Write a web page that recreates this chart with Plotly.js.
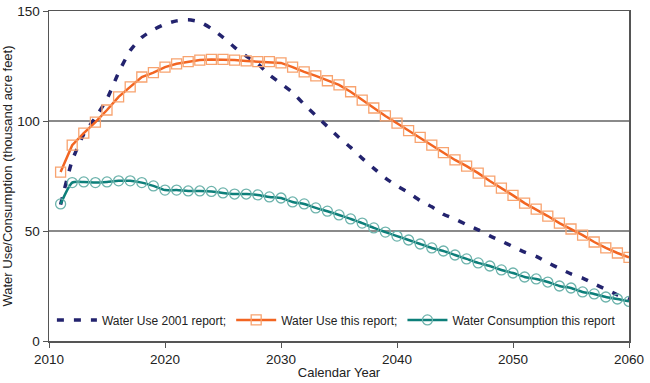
<!DOCTYPE html>
<html><head><meta charset="utf-8">
<script src="https://cdn.plot.ly/plotly-3.0.1.min.js"></script>
<style>html,body{margin:0;padding:0;background:#fff}#chart{width:650px;height:383px}</style>
</head><body><div id="chart"></div>
<script>
var years = [];
for (var y = 2011; y <= 2060; y++) years.push(y);

var use2001 = [62, 82, 94, 101.5, 110, 122, 132, 138, 141.5, 144,
  145.5, 146, 145, 142, 138, 133.5, 129.5, 126, 121, 117,
  113, 107.5, 102.5, 97.5, 92.5, 88, 83, 78.5, 74, 70.5,
  67.4, 63.8, 61, 57.6, 55.4, 52.9, 50.5, 47.8, 45.4, 42.9,
  40.4, 38.5, 35.6, 33, 30.5, 28.6, 26, 23.5, 21, 19];

var useThis = [76.8, 89, 94.5, 99.5, 105, 111, 115.5, 120, 122, 124.5,
  126, 127, 127.7, 128, 128, 127.7, 127.3, 127, 127, 126.4,
  124.5, 122.3, 120.5, 118.3, 116.4, 113.3, 109.5, 105.9, 102.3, 99,
  95.6, 92.6, 89, 85.6, 82.3, 79.5, 76.3, 72.7, 69.5, 66.2,
  62.7, 59.9, 56.8, 53.6, 50.9, 48.1, 45, 42.3, 40, 38];

var consThis = [62.3, 72, 72.3, 72, 72.3, 72.8, 72.8, 72, 70.5, 68.6,
  68.6, 68.2, 68.2, 68, 67.3, 66.8, 66.8, 66.4, 65.5, 65,
  63.2, 62.3, 60.5, 59, 57.3, 55.5, 53.6, 51.4, 49.5, 47.7,
  45.9, 44.1, 42.3, 40.9, 39.1, 37.3, 35.5, 34.1, 32.3, 30.9,
  29.1, 28.2, 26.8, 25, 24.1, 22.3, 21.4, 20, 19.1, 18];

var seriesNames = ['Water Use 2001 report;', 'Water Use this report;', 'Water Consumption this report'];
var xTicks = [2010, 2020, 2030, 2040, 2050, 2060];
var yTicks = [0, 50, 100, 150];

var font = 'Liberation Sans, Arial, Helvetica, sans-serif';

var traces = [
  {x: years, y: use2001, name: seriesNames[0], mode: 'lines', type: 'scatter',
   line: {color: '#23236e', width: 3.5, dash: '7px,10px', shape: 'spline', smoothing: 0.6}},
  {x: years, y: useThis, name: seriesNames[1], mode: 'lines+markers', type: 'scatter',
   line: {color: '#f26522', width: 2.5},
   marker: {symbol: 'square-open', size: 10, color: '#f8a36f', line: {width: 1.3}}},
  {x: years, y: consThis, name: seriesNames[2], mode: 'lines+markers', type: 'scatter',
   line: {color: '#0d7f7a', width: 2.5, shape: 'spline', smoothing: 0.6},
   marker: {symbol: 'circle-open', size: 10, color: '#6db3ac', line: {width: 1.3}}}
];

var layout = {
  width: 650, height: 383,
  margin: {l: 49, r: 21, t: 11, b: 42},
  paper_bgcolor: '#fff', plot_bgcolor: '#fff',
  font: {family: font, size: 13, color: '#222'},
  showlegend: true,
  legend: {orientation: 'h', x: 0.005, y: 0.02, xanchor: 'left', yanchor: 'bottom',
    bgcolor: 'rgba(0,0,0,0)', font: {family: font, size: 12, color: '#222'},
    itemwidth: 40, tracegroupgap: 0},
  xaxis: {range: [2010, 2060], tickvals: xTicks, ticktext: xTicks.map(String),
    showgrid: false, zeroline: false, showline: true, linecolor: '#555', linewidth: 1.5,
    mirror: true, ticks: 'outside', ticklen: 5, tickcolor: '#555',
    title: {text: 'Calendar Year', font: {family: font, size: 13, color: '#222'}, standoff: 2},
    tickfont: {family: font, size: 13.5, color: '#222'}},
  yaxis: {range: [0, 150], tickvals: yTicks, ticktext: yTicks.map(String),
    showgrid: true, gridcolor: '#8a8a8a', gridwidth: 1.2, zeroline: false,
    showline: true, linecolor: '#555', linewidth: 1.5, mirror: true,
    ticks: 'outside', ticklen: 5, tickcolor: '#555',
    title: {text: 'Water Use/Consumption (thousand acre feet)', font: {family: font, size: 13, color: '#222'}, standoff: 4},
    tickfont: {family: font, size: 13.5, color: '#222'}}
};

Plotly.newPlot('chart', traces, layout, {displayModeBar: false, staticPlot: true});
</script>
</body></html>
